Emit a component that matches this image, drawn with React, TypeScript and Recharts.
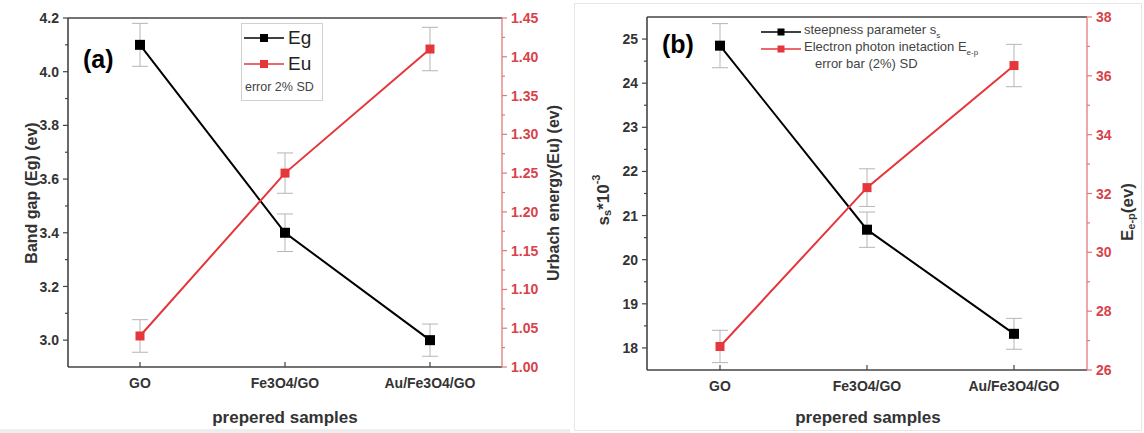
import React from 'react';
import { LineChart, Line, XAxis, YAxis, ErrorBar, ReferenceLine } from 'recharts';

const samples = ['GO', 'Fe3O4/GO', 'Au/Fe3O4/GO'];

const egValues = [4.1, 3.4, 3.0];
const egErrors = [0.08, 0.07, 0.06];
const euValues = [1.04, 1.25, 1.41];
const euErrors = [0.021, 0.026, 0.028];

const ssValues = [24.85, 20.68, 18.32];
const ssErrors = [0.5, 0.4, 0.35];
const eepValues = [26.8, 32.2, 36.35];
const eepErrors = [0.55, 0.64, 0.72];

const egMajorTicks = [3.0, 3.2, 3.4, 3.6, 3.8, 4.0, 4.2];
const egMinorTicks = [3.1, 3.3, 3.5, 3.7, 3.9, 4.1];
const euMajorTicks = [1.0, 1.05, 1.1, 1.15, 1.2, 1.25, 1.3, 1.35, 1.4, 1.45];
const euMinorTicks = [1.025, 1.075, 1.125, 1.175, 1.225, 1.275, 1.325, 1.375, 1.425];
const ssMajorTicks = [18, 19, 20, 21, 22, 23, 24, 25];
const ssMinorTicks = [18.5, 19.5, 20.5, 21.5, 22.5, 23.5, 24.5];
const eepMajorTicks = [26, 28, 30, 32, 34, 36, 38];
const eepMinorTicks = [27, 29, 31, 33, 35, 37];

const dataA = samples.map((s, i) => ({
  sample: s,
  eg: egValues[i],
  egErr: egErrors[i],
  eu: euValues[i],
  euErr: euErrors[i],
}));
const dataB = samples.map((s, i) => ({
  sample: s,
  ss: ssValues[i],
  ssErr: ssErrors[i],
  eep: eepValues[i],
  eepErr: eepErrors[i],
}));

const FONT = '"Liberation Sans", Arial, Helvetica, sans-serif';
const DARK = '#333';
const AXIS = '#444';
const RED = '#e5363c';
const RED_AXIS = '#e07a7e';
const RED_TEXT = '#d8424a';
const ERR = '#b5b5b5';

const squareDot = (color: string, size: number) => (props: any) => {
  const { cx, cy, index } = props;
  if (cx == null || cy == null) return <g key={`e${index}`} />;
  return <rect key={`d${index}`} x={cx - size / 2} y={cy - size / 2} width={size} height={size} fill={color} />;
};

const makeYTick =
  (side: 'left' | 'right', majors: number[], fmt: (v: number) => string, textColor: string, lineColor: string) =>
  (props: any) => {
    const { x, y, payload, index } = props;
    const v = payload.value;
    const major = majors.some((m) => Math.abs(m - v) < 1e-9);
    const dir = side === 'left' ? -1 : 1;
    const len = major ? 5 : 3;
    return (
      <g key={`t${index}`}>
        <line x1={x} x2={x + dir * len} y1={y} y2={y} stroke={lineColor} strokeWidth={1.2} />
        {major && (
          <text
            x={x + dir * 9}
            y={y}
            dy="0.36em"
            textAnchor={side === 'left' ? 'end' : 'start'}
            fontFamily={FONT}
            fontWeight="bold"
            fontSize={14}
            fill={textColor}
          >
            {fmt(v)}
          </text>
        )}
      </g>
    );
  };

const xTick = (props: any) => {
  const { x, y, payload, index } = props;
  return (
    <g key={`x${index}`}>
      <line x1={x} x2={x} y1={y} y2={y - 5} stroke={AXIS} strokeWidth={1.2} />
      <text x={x} y={y + 21} textAnchor="middle" fontFamily={FONT} fontWeight="bold" fontSize={14} fill={DARK}>
        {payload.value}
      </text>
    </g>
  );
};

const LegendLine = ({ color, size }: { color: string; size: number }) => (
  <svg width={40} height={10} style={{ display: 'block' }}>
    <line x1={0} x2={40} y1={5} y2={5} stroke={color} strokeWidth={1.6} />
    <rect x={20 - size / 2} y={5 - size / 2} width={size} height={size} fill={color} />
  </svg>
);

export default function App() {
  return (
    <div
      style={{
        position: 'absolute',
        left: 0,
        top: 0,
        width: 1144,
        height: 433,
        background: '#fff',
        overflow: 'hidden',
        fontFamily: FONT,
      }}
    >
      <div style={{ position: 'absolute', left: 574, top: 3, width: 566, height: 426, border: '1px solid #e6e6e6' }} />
      <div style={{ position: 'absolute', left: 0, top: 429, width: 570, height: 4, background: '#eeeeee' }} />

      {/* Panel (a) */}
      <div style={{ position: 'absolute', left: 0, top: 0 }}>
        <LineChart width={572} height={433} data={dataA} margin={{ top: 18, right: 30, bottom: 36, left: 28 }}>
          <XAxis
            dataKey="sample"
            height={30}
            tickSize={0}
            tickMargin={0}
            tickLine={false}
            tick={xTick}
            axisLine={{ stroke: AXIS, strokeWidth: 1.6 }}
            interval={0}
            padding={{ left: 72, right: 72 }}
          />
          <YAxis
            yAxisId="left"
            orientation="left"
            width={40}
            domain={[2.9, 4.2]}
            ticks={[...egMajorTicks, ...egMinorTicks]}
            interval={0}
            tickSize={0}
            tickMargin={0}
            tickLine={false}
            tick={makeYTick('left', egMajorTicks, (v) => v.toFixed(1), DARK, AXIS)}
            axisLine={{ stroke: AXIS, strokeWidth: 1.6 }}
            allowDataOverflow
          />
          <YAxis
            yAxisId="right"
            orientation="right"
            width={40}
            domain={[1.0, 1.45]}
            ticks={[...euMajorTicks, ...euMinorTicks]}
            interval={0}
            tickSize={0}
            tickMargin={0}
            tickLine={false}
            tick={makeYTick('right', euMajorTicks, (v) => v.toFixed(2), RED_TEXT, RED_AXIS)}
            axisLine={{ stroke: RED_AXIS, strokeWidth: 1.3 }}
            allowDataOverflow
          />
          <ReferenceLine yAxisId="left" y={4.2} stroke={AXIS} strokeWidth={1.6} />
          <Line
            yAxisId="left"
            dataKey="eg"
            stroke="#000"
            strokeWidth={2}
            dot={squareDot('#000', 10)}
            isAnimationActive={false}
          >
            <ErrorBar dataKey="egErr" width={8} stroke={ERR} strokeWidth={1} direction="y" />
          </Line>
          <Line
            yAxisId="right"
            dataKey="eu"
            stroke={RED}
            strokeWidth={2}
            dot={squareDot(RED, 9)}
            isAnimationActive={false}
          >
            <ErrorBar dataKey="euErr" width={8} stroke={ERR} strokeWidth={1} direction="y" />
          </Line>
        </LineChart>
      </div>

      {/* Panel (b) */}
      <div style={{ position: 'absolute', left: 572, top: 0 }}>
        <LineChart width={572} height={433} data={dataB} margin={{ top: 17, right: 17, bottom: 33, left: 35 }}>
          <XAxis
            dataKey="sample"
            height={30}
            tickSize={0}
            tickMargin={0}
            tickLine={false}
            tick={xTick}
            axisLine={{ stroke: AXIS, strokeWidth: 1.6 }}
            interval={0}
            padding={{ left: 73, right: 73 }}
          />
          <YAxis
            yAxisId="left"
            orientation="left"
            width={40}
            domain={[17.5, 25.5]}
            ticks={[...ssMajorTicks, ...ssMinorTicks]}
            interval={0}
            tickSize={0}
            tickMargin={0}
            tickLine={false}
            tick={makeYTick('left', ssMajorTicks, (v) => String(v), DARK, AXIS)}
            axisLine={{ stroke: AXIS, strokeWidth: 1.6 }}
            allowDataOverflow
          />
          <YAxis
            yAxisId="right"
            orientation="right"
            width={40}
            domain={[26, 38]}
            ticks={[...eepMajorTicks, ...eepMinorTicks]}
            interval={0}
            tickSize={0}
            tickMargin={0}
            tickLine={false}
            tick={makeYTick('right', eepMajorTicks, (v) => String(v), RED_TEXT, RED_AXIS)}
            axisLine={{ stroke: RED_AXIS, strokeWidth: 1.3 }}
            allowDataOverflow
          />
          <ReferenceLine yAxisId="left" y={25.5} stroke={AXIS} strokeWidth={1.6} />
          <Line
            yAxisId="left"
            dataKey="ss"
            stroke="#000"
            strokeWidth={2}
            dot={squareDot('#000', 10)}
            isAnimationActive={false}
          >
            <ErrorBar dataKey="ssErr" width={8} stroke={ERR} strokeWidth={1} direction="y" />
          </Line>
          <Line
            yAxisId="right"
            dataKey="eep"
            stroke={RED}
            strokeWidth={2}
            dot={squareDot(RED, 9)}
            isAnimationActive={false}
          >
            <ErrorBar dataKey="eepErr" width={8} stroke={ERR} strokeWidth={1} direction="y" />
          </Line>
        </LineChart>
      </div>

      {/* Titles overlay */}
      <svg
        width={1144}
        height={433}
        style={{ position: 'absolute', left: 0, top: 0, pointerEvents: 'none' }}
        fontFamily={FONT}
      >
        <text x={83} y={68} fontSize={25} fontWeight="bold" fill="#000">
          (a)
        </text>
        <text x={662} y={53} fontSize={25} fontWeight="bold" fill="#000">
          (b)
        </text>

        <text
          x={31}
          y={193}
          fontSize={16}
          fontWeight="bold"
          fill={DARK}
          textAnchor="middle"
          dominantBaseline="central"
          transform="rotate(-90 31 193)"
        >
          Band gap (Eg) (ev)
        </text>
        <text
          x={553}
          y={193}
          fontSize={16}
          fontWeight="bold"
          fill={DARK}
          textAnchor="middle"
          dominantBaseline="central"
          transform="rotate(-90 553 193)"
        >
          Urbach energy(Eu) (ev)
        </text>
        <text x={285} y={423} fontSize={17} fontWeight="bold" fill={DARK} textAnchor="middle">
          prepered samples
        </text>
        <text x={868} y={423} fontSize={17} fontWeight="bold" fill={DARK} textAnchor="middle">
          prepered samples
        </text>

        <text
          x={603}
          y={200}
          fontSize={17}
          fontWeight="bold"
          fill={DARK}
          textAnchor="middle"
          dominantBaseline="central"
          transform="rotate(-90 603 200)"
        >
          s<tspan fontSize={11} dy={4}>s</tspan>
          <tspan dy={-4}>*10</tspan>
          <tspan fontSize={11} dy={-7}>-3</tspan>
        </text>
        <text
          x={1127}
          y={212}
          fontSize={17}
          fontWeight="bold"
          fill={DARK}
          textAnchor="middle"
          dominantBaseline="central"
          transform="rotate(-90 1127 212)"
        >
          E<tspan fontSize={11} dy={4}>e-p</tspan>
          <tspan dy={-4}>(ev)</tspan>
        </text>
      </svg>

      {/* Legend (a) */}
      <div
        style={{
          position: 'absolute',
          left: 241,
          top: 23,
          width: 80,
          height: 76,
          border: '1px solid #d0d0d0',
          background: '#fff',
          color: DARK,
        }}
      >
        <div style={{ position: 'absolute', left: 2, top: 4, display: 'flex', alignItems: 'center' }}>
          <LegendLine color="#000" size={8} />
          <span style={{ fontSize: 19, marginLeft: 4, lineHeight: '20px', color: '#222' }}>Eg</span>
        </div>
        <div style={{ position: 'absolute', left: 2, top: 30, display: 'flex', alignItems: 'center' }}>
          <LegendLine color={RED} size={8} />
          <span style={{ fontSize: 19, marginLeft: 4, lineHeight: '20px', color: '#222' }}>Eu</span>
        </div>
        <div
          style={{
            position: 'absolute',
            left: 3,
            top: 56,
            fontSize: 12.5,
            lineHeight: '14px',
            color: '#444',
            whiteSpace: 'nowrap',
          }}
        >
          error 2% SD
        </div>
      </div>

      {/* Legend (b) */}
      <div style={{ position: 'absolute', left: 761, top: 21, color: '#444', fontSize: 13 }}>
        <div style={{ position: 'absolute', left: 0, top: 0, display: 'flex', alignItems: 'center', whiteSpace: 'nowrap' }}>
          <LegendLine color="#000" size={7} />
          <span style={{ marginLeft: 3, lineHeight: '17px' }}>
            steepness parameter s<sub style={{ fontSize: 8 }}>s</sub>
          </span>
        </div>
        <div style={{ position: 'absolute', left: 0, top: 17, display: 'flex', alignItems: 'center', whiteSpace: 'nowrap' }}>
          <LegendLine color={RED} size={7} />
          <span style={{ marginLeft: 3, lineHeight: '17px' }}>
            Electron photon inetaction E<sub style={{ fontSize: 8 }}>e-p</sub>
          </span>
        </div>
        <div style={{ position: 'absolute', left: 54, top: 34, whiteSpace: 'nowrap', lineHeight: '17px' }}>
          error bar (2%) SD
        </div>
      </div>
    </div>
  );
}
